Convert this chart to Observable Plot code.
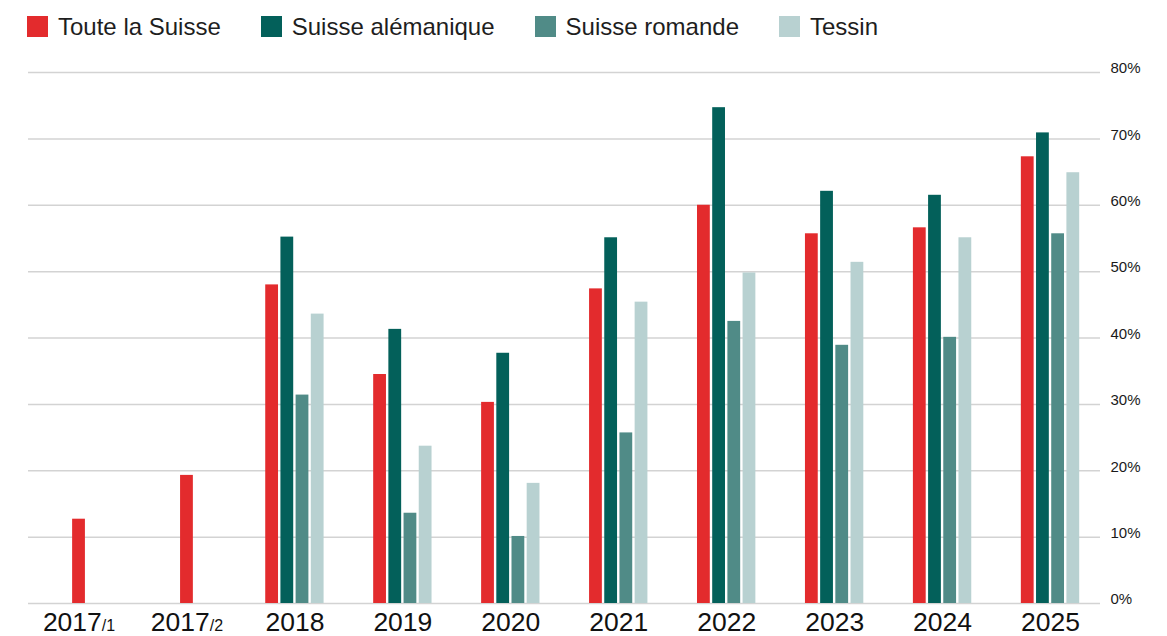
<!DOCTYPE html>
<html>
<head>
<meta charset="utf-8">
<script src="https://cdn.jsdelivr.net/npm/d3@7"></script>
<script src="https://cdn.jsdelivr.net/npm/@observablehq/plot@0.6"></script>
<style>
  html, body { margin: 0; padding: 0; background: #fff; }
  body { width: 1167px; height: 636px; overflow: hidden; font-family: "Liberation Sans", Arial, sans-serif; }
  #legend { height: 50px; display: flex; align-items: center; padding-left: 27px; box-sizing: border-box; padding-top: 3px; }
  .item { display: flex; align-items: center; margin-right: 40px; font-size: 24px; color: #1e1e1e; }
  .sw { width: 21px; height: 21px; margin-right: 10px; }
  #chart svg { display: block; }
</style>
</head>
<body>
<div id="legend"></div>
<div id="chart"></div>
<script>
const categories = ["2017/1", "2017/2", "2018", "2019", "2020", "2021", "2022", "2023", "2024", "2025"];
const seriesNames = ["Toute la Suisse", "Suisse alémanique", "Suisse romande", "Tessin"];
const colors = ["#e32b2d", "#03605a", "#508b87", "#b8d1d1"];
const touteLaSuisse = [12.7, 19.3, 48.0, 34.5, 30.3, 47.4, 60.0, 55.7, 56.6, 67.3];
const suisseAlemanique = [null, null, 55.2, 41.3, 37.7, 55.1, 74.7, 62.1, 61.5, 70.9];
const suisseRomande = [null, null, 31.4, 13.6, 10.1, 25.7, 42.5, 38.9, 40.1, 55.7];
const tessin = [null, null, 43.6, 23.7, 18.1, 45.4, 49.8, 51.4, 55.1, 64.9];
const yTicks = [0, 10, 20, 30, 40, 50, 60, 70, 80];

const seriesValues = [touteLaSuisse, suisseAlemanique, suisseRomande, tessin];

// build table: bars within a group are centred on the group index
const pitch = 0.1407, barW = 0.1185;
const rows = [];
categories.forEach((cat, i) => {
  const present = seriesNames.map((s, k) => ({s, k, v: seriesValues[k][i]})).filter(d => d.v != null);
  const n = present.length;
  present.forEach((d, j) => {
    const c = i + (j - (n - 1) / 2) * pitch;
    rows.push({category: cat, series: d.s, value: d.v, x1: c - barW / 2, x2: c + barW / 2});
  });
});

// legend
const legend = document.getElementById("legend");
seriesNames.forEach((s, k) => {
  const it = document.createElement("div");
  it.className = "item";
  const sw = document.createElement("span");
  sw.className = "sw";
  sw.style.background = colors[k];
  const tx = document.createElement("span");
  tx.textContent = s;
  it.appendChild(sw); it.appendChild(tx);
  legend.appendChild(it);
});

const chart = Plot.plot({
  width: 1167,
  height: 586,
  marginLeft: 28,
  marginRight: 67,
  marginTop: 22,
  marginBottom: 33,
  style: {fontFamily: "'Liberation Sans', Arial, sans-serif", background: "#fff"},
  x: {type: "linear", domain: [-0.468, 9.463]},
  y: {domain: [0, 80]},
  color: {domain: seriesNames, range: colors},
  marks: [
    Plot.ruleY(yTicks, {stroke: "#d3d3d3", strokeWidth: 1.5}),
    Plot.rectY(rows, {x1: "x1", x2: "x2", y1: 0, y2: "value", fill: "series"}),
    Plot.axisX(d3.range(categories.length), {
      tickFormat: i => categories[i], tickSize: 0, tickPadding: 9,
      fontSize: 26.5, fill: "#111", label: null
    }),
    Plot.axisY(yTicks, {
      anchor: "right", tickFormat: d => d + "%", tickSize: 0, tickPadding: 10,
      fontSize: 15, fill: "#1a1a1a", dy: -4, label: null
    })
  ]
});
document.getElementById("chart").appendChild(chart);

// render the "/1" and "/2" suffixes smaller
chart.querySelectorAll('g[aria-label="x-axis tick label"] text').forEach(t => {
  const s = t.textContent;
  const p = s.indexOf("/");
  if (p >= 0) {
    t.textContent = "";
    const a = document.createElementNS("http://www.w3.org/2000/svg", "tspan");
    a.textContent = s.slice(0, p);
    const b = document.createElementNS("http://www.w3.org/2000/svg", "tspan");
    b.textContent = s.slice(p);
    b.setAttribute("font-size", "16");
    t.appendChild(a); t.appendChild(b);
  }
});
</script>
</body>
</html>
